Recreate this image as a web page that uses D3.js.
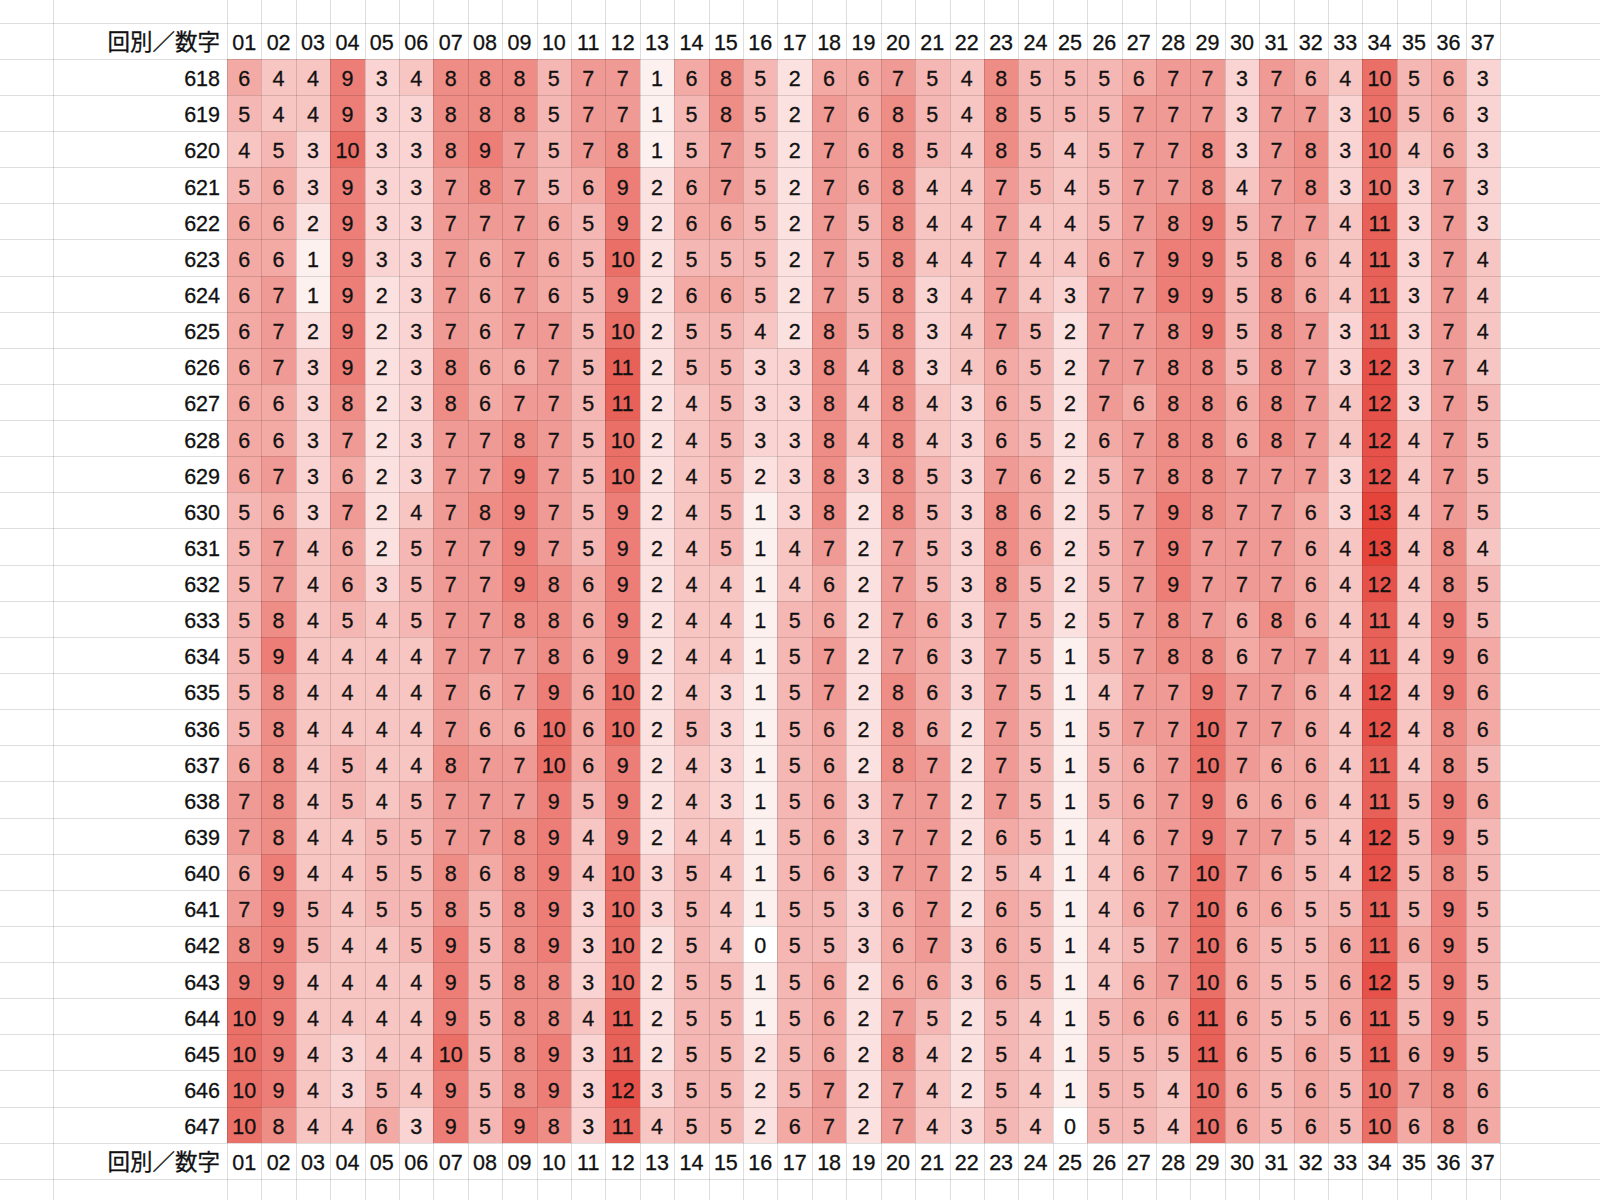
<!DOCTYPE html>
<html>
<head>
<meta charset="utf-8">
<script src="https://cdn.jsdelivr.net/npm/d3@7"></script>
<style>
  html, body { margin: 0; padding: 0; background: #ffffff; }
  svg { display: block; }
  text { font-family: "Liberation Sans", Arial, "Noto Sans CJK JP", sans-serif; fill: #111111; stroke: #111111; stroke-width: 0.3px; }
</style>
</head>
<body>
<svg id="chart" width="1600" height="1200"></svg>
<script>
// ---- data ----
const cornerLabel = "回別／数字";
const numbers = ["01","02","03","04","05","06","07","08","09","10","11","12","13","14","15","16","17","18","19","20","21","22","23","24","25","26","27","28","29","30","31","32","33","34","35","36","37"];
const rounds = ["618","619","620","621","622","623","624","625","626","627","628","629","630","631","632","633","634","635","636","637","638","639","640","641","642","643","644","645","646","647"];
const counts = [
  [6,4,4,9,3,4,8,8,8,5,7,7,1,6,8,5,2,6,6,7,5,4,8,5,5,5,6,7,7,3,7,6,4,10,5,6,3],
  [5,4,4,9,3,3,8,8,8,5,7,7,1,5,8,5,2,7,6,8,5,4,8,5,5,5,7,7,7,3,7,7,3,10,5,6,3],
  [4,5,3,10,3,3,8,9,7,5,7,8,1,5,7,5,2,7,6,8,5,4,8,5,4,5,7,7,8,3,7,8,3,10,4,6,3],
  [5,6,3,9,3,3,7,8,7,5,6,9,2,6,7,5,2,7,6,8,4,4,7,5,4,5,7,7,8,4,7,8,3,10,3,7,3],
  [6,6,2,9,3,3,7,7,7,6,5,9,2,6,6,5,2,7,5,8,4,4,7,4,4,5,7,8,9,5,7,7,4,11,3,7,3],
  [6,6,1,9,3,3,7,6,7,6,5,10,2,5,5,5,2,7,5,8,4,4,7,4,4,6,7,9,9,5,8,6,4,11,3,7,4],
  [6,7,1,9,2,3,7,6,7,6,5,9,2,6,6,5,2,7,5,8,3,4,7,4,3,7,7,9,9,5,8,6,4,11,3,7,4],
  [6,7,2,9,2,3,7,6,7,7,5,10,2,5,5,4,2,8,5,8,3,4,7,5,2,7,7,8,9,5,8,7,3,11,3,7,4],
  [6,7,3,9,2,3,8,6,6,7,5,11,2,5,5,3,3,8,4,8,3,4,6,5,2,7,7,8,8,5,8,7,3,12,3,7,4],
  [6,6,3,8,2,3,8,6,7,7,5,11,2,4,5,3,3,8,4,8,4,3,6,5,2,7,6,8,8,6,8,7,4,12,3,7,5],
  [6,6,3,7,2,3,7,7,8,7,5,10,2,4,5,3,3,8,4,8,4,3,6,5,2,6,7,8,8,6,8,7,4,12,4,7,5],
  [6,7,3,6,2,3,7,7,9,7,5,10,2,4,5,2,3,8,3,8,5,3,7,6,2,5,7,8,8,7,7,7,3,12,4,7,5],
  [5,6,3,7,2,4,7,8,9,7,5,9,2,4,5,1,3,8,2,8,5,3,8,6,2,5,7,9,8,7,7,6,3,13,4,7,5],
  [5,7,4,6,2,5,7,7,9,7,5,9,2,4,5,1,4,7,2,7,5,3,8,6,2,5,7,9,7,7,7,6,4,13,4,8,4],
  [5,7,4,6,3,5,7,7,9,8,6,9,2,4,4,1,4,6,2,7,5,3,8,5,2,5,7,9,7,7,7,6,4,12,4,8,5],
  [5,8,4,5,4,5,7,7,8,8,6,9,2,4,4,1,5,6,2,7,6,3,7,5,2,5,7,8,7,6,8,6,4,11,4,9,5],
  [5,9,4,4,4,4,7,7,7,8,6,9,2,4,4,1,5,7,2,7,6,3,7,5,1,5,7,8,8,6,7,7,4,11,4,9,6],
  [5,8,4,4,4,4,7,6,7,9,6,10,2,4,3,1,5,7,2,8,6,3,7,5,1,4,7,7,9,7,7,6,4,12,4,9,6],
  [5,8,4,4,4,4,7,6,6,10,6,10,2,5,3,1,5,6,2,8,6,2,7,5,1,5,7,7,10,7,7,6,4,12,4,8,6],
  [6,8,4,5,4,4,8,7,7,10,6,9,2,4,3,1,5,6,2,8,7,2,7,5,1,5,6,7,10,7,6,6,4,11,4,8,5],
  [7,8,4,5,4,5,7,7,7,9,5,9,2,4,3,1,5,6,3,7,7,2,7,5,1,5,6,7,9,6,6,6,4,11,5,9,6],
  [7,8,4,4,5,5,7,7,8,9,4,9,2,4,4,1,5,6,3,7,7,2,6,5,1,4,6,7,9,7,7,5,4,12,5,9,5],
  [6,9,4,4,5,5,8,6,8,9,4,10,3,5,4,1,5,6,3,7,7,2,5,4,1,4,6,7,10,7,6,5,4,12,5,8,5],
  [7,9,5,4,5,5,8,5,8,9,3,10,3,5,4,1,5,5,3,6,7,2,6,5,1,4,6,7,10,6,6,5,5,11,5,9,5],
  [8,9,5,4,4,5,9,5,8,9,3,10,2,5,4,0,5,5,3,6,7,3,6,5,1,4,5,7,10,6,5,5,6,11,6,9,5],
  [9,9,4,4,4,4,9,5,8,8,3,10,2,5,5,1,5,6,2,6,6,3,6,5,1,4,6,7,10,6,5,5,6,12,5,9,5],
  [10,9,4,4,4,4,9,5,8,8,4,11,2,5,5,1,5,6,2,7,5,2,5,4,1,5,6,6,11,6,5,5,6,11,5,9,5],
  [10,9,4,3,4,4,10,5,8,9,3,11,2,5,5,2,5,6,2,8,4,2,5,4,1,5,5,5,11,6,5,6,5,11,6,9,5],
  [10,9,4,3,5,4,9,5,8,9,3,12,3,5,5,2,5,7,2,7,4,2,5,4,1,5,5,4,10,6,5,6,5,10,7,8,6],
  [10,8,4,4,6,3,9,5,9,8,3,11,4,5,5,2,6,7,2,7,4,3,5,4,0,5,5,4,10,6,5,6,5,10,6,8,6]
];

// ---- layout ----
const W = 1600, H = 1200;
const svg = d3.select("#chart");
svg.append("rect").attr("width", W).attr("height", H).attr("fill", "#ffffff");

const gridTop = 58.7, gridBottom = 1142.7;
const x = d3.scaleBand().domain(numbers).range([227, 1500]).paddingInner(0).paddingOuter(0);
const y = d3.scaleBand().domain(rounds).range([gridTop, gridBottom]).paddingInner(0).paddingOuter(0);
const rowH = y.bandwidth();
const headerTop = gridTop - rowH;
const footerTop = gridBottom;

const color = d3.scaleLinear().domain([0, 13]).range(["#ffffff", "#e4443a"]).interpolate(d3.interpolateRgb);

const cells = [];
rounds.forEach((r, i) => numbers.forEach((n, j) => cells.push({ r, n, v: counts[i][j] })));

// cells
svg.append("g").selectAll("rect").data(cells).join("rect")
  .attr("x", d => Math.round(x(d.n)))
  .attr("y", d => Math.round(y(d.r)))
  .attr("width", d => Math.round(x(d.n) + x.bandwidth()) - Math.round(x(d.n)))
  .attr("height", d => Math.round(y(d.r) + rowH) - Math.round(y(d.r)))
  .attr("fill", d => color(d.v));

// gridlines (spreadsheet style)
const gl = svg.append("g").attr("shape-rendering", "crispEdges")
  .attr("stroke", "rgba(0,0,0,0.13)").attr("stroke-width", 1);
const hLines = [headerTop].concat(rounds.map(r => y(r))).concat([gridBottom, gridBottom + rowH]);
gl.selectAll("line.h").data(hLines).join("line").attr("class", "h")
  .attr("x1", 0).attr("x2", W)
  .attr("y1", d => Math.round(d) + 0.5).attr("y2", d => Math.round(d) + 0.5);
const vLines = [53].concat(numbers.map(n => x(n))).concat([x.range()[1]]);
gl.selectAll("line.v").data(vLines).join("line").attr("class", "v")
  .attr("y1", 0).attr("y2", H)
  .attr("x1", d => Math.round(d) + 0.5).attr("x2", d => Math.round(d) + 0.5);

// cell values
const fs = 21.5, baseOff = 27.5;
svg.append("g").selectAll("text").data(cells).join("text")
  .attr("x", d => x(d.n) + x.bandwidth() / 2)
  .attr("y", d => y(d.r) + baseOff)
  .attr("text-anchor", "middle")
  .attr("font-size", fs)
  .text(d => d.v);

// row labels
svg.append("g").selectAll("text").data(rounds).join("text")
  .attr("x", 220).attr("y", d => y(d) + baseOff)
  .attr("text-anchor", "end").attr("font-size", fs)
  .text(d => d);

// header and footer rows
[headerTop, footerTop].forEach(top => {
  const g = svg.append("g");
  g.append("text").attr("x", 220).attr("y", top + baseOff)
    .attr("text-anchor", "end").attr("font-size", 22.5).text(cornerLabel);
  g.selectAll("text.n").data(numbers).join("text").attr("class", "n")
    .attr("x", d => x(d) + x.bandwidth() / 2).attr("y", top + baseOff)
    .attr("text-anchor", "middle").attr("font-size", fs).text(d => d);
});
</script>
</body>
</html>
